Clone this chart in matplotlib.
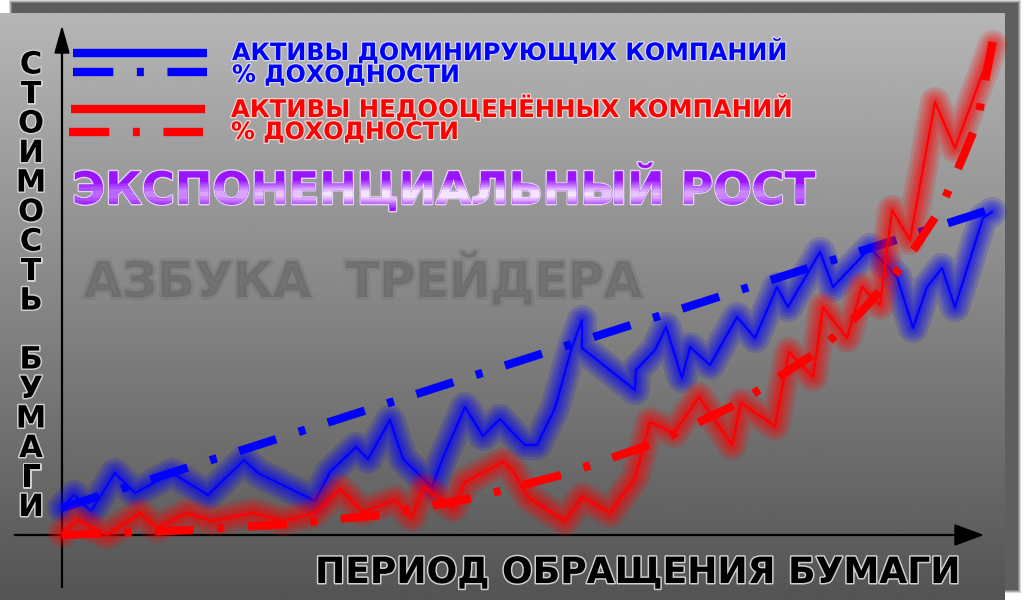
import matplotlib
matplotlib.use('Agg')
import matplotlib.pyplot as plt
import numpy as np
from matplotlib import patheffects as pe
from matplotlib.patches import Rectangle, Ellipse, Polygon

plt.rcParams['lines.scale_dashes'] = False
plt.rcParams['font.family'] = ['DejaVu Sans']

# Data (period on x, paper value on y)
blue_x = [0, 1.2, 2.9, 5.3, 7.3, 11.0, 14.6, 18.2, 19.6, 25.3, 26.8, 29.4, 30.6, 32.8, 34.1,
          37.0, 38.0, 40.3, 42.1, 43.8, 45.0, 46.3, 47.5, 49.3, 51.0, 52.0, 52.0, 57.3, 57.4,
          59.3, 60.4, 62.0, 62.8, 64.8, 67.5, 69.3, 71.5, 72.6, 75.8, 77.1, 80.8, 83.5, 85.1,
          86.5, 88.0, 89.3, 92.1, 93.0]
blue_y = [2.7, 4.0, 2.4, 6.2, 4.2, 6.2, 4.0, 7.5, 6.2, 3.4, 6.3, 8.8, 7.6, 11.5, 7.6,
          4.8, 7.5, 12.8, 9.9, 11.6, 10.3, 9.0, 9.0, 12.7, 18.8, 21.5, 18.7, 14.5, 16.5,
          18.5, 20.8, 15.7, 18.8, 17.0, 21.8, 19.7, 24.8, 22.8, 28.3, 24.8, 28.7, 25.8, 20.7,
          24.8, 26.7, 22.8, 31.7, 32.3]
red_x = [0, 1.5, 4.5, 7.8, 9.5, 12.5, 15.0, 19.1, 22.1, 25.3, 27.8, 30.1, 33.3, 35.0,
         36.2, 38.0, 39.1, 40.3, 44.1, 45.0, 46.7, 50.3, 52.0, 54.8, 57.3, 58.8, 61.2, 63.7,
         67.0, 67.9, 71.3, 72.7, 75.1, 76.1, 78.5, 80.0, 81.8, 83.0, 84.8, 87.3, 89.3, 93.1]
red_y = [0.2, 1.5, 0.0, 2.2, 0.7, 2.2, 1.4, 2.2, 1.4, 2.2, 4.6, 2.3, 3.5, 1.8,
         4.8, 3.5, 2.7, 5.3, 7.3, 6.5, 3.7, 1.4, 3.8, 2.2, 5.7, 11.3, 10.2, 13.8,
         9.0, 13.2, 10.9, 18.3, 15.8, 22.8, 19.7, 24.8, 23.0, 32.5, 29.5, 43.3, 38.7, 49.0]
blue_trend_x = [0, 93.3]
blue_trend_y = [2.7, 32.7]
red_trend_x = [0, 13.1, 22.5, 31.8, 41.1, 50.3, 59.3, 67.7, 75.5, 79.8, 84.3, 87.8, 90.1, 91.5, 93.1]
red_trend_y = [0, 0.5, 1.1, 2.0, 3.7, 6.1, 9.2, 13.2, 18.3, 22.2, 27.2, 32.5, 37.8, 41.2, 49.5]

blue_label = "АКТИВЫ ДОМИНИРУЮЩИХ КОМПАНИЙ"
red_label = "АКТИВЫ НЕДООЦЕНЁННЫХ КОМПАНИЙ"
yield_label = "% ДОХОДНОСТИ"
title = "ЭКСПОНЕНЦИАЛЬНЫЙ РОСТ"
watermark = "АЗБУКА  ТРЕЙДЕРА"
xlabel = "ПЕРИОД ОБРАЩЕНИЯ БУМАГИ"
ylabel = "СТОИМОСТЬ БУМАГИ"

dashdot = (0, (28, 17, 5, 17))

fig = plt.figure(figsize=(10.24, 6), dpi=100)
fig.patch.set_facecolor('white')

# background layer in pixel coordinates
bg = fig.add_axes([0, 0, 1, 1])
bg.axis('off')

# shadow frame
for pad, a in [(3, 0.25), (2, 0.35), (1, 0.5)]:
    bg.add_patch(Rectangle((12 - pad, 3 - pad), 1006 + 2 * pad, 587 + 2 * pad,
                           color='#5c5c5c', alpha=a, lw=0, zorder=-2))
bg.add_patch(Rectangle((12, 3), 1006, 587, color='#5e5e5e', lw=0, zorder=-2))

# gray gradient panel
grad = np.linspace(182, 84, 300)[:, None] * np.ones((1, 2))
bg.imshow(grad, cmap='gray', vmin=0, vmax=255, extent=(0, 1005, 600, 13),
          aspect='auto', interpolation='bilinear', zorder=-1)
bg.set_xlim(0, 1024)
bg.set_ylim(600, 0)

# axes arrows
bg.plot([62, 62], [587, 50], color='black', lw=1.6)
bg.add_patch(Polygon([(55, 53), (69, 53), (62, 28)], color='black'))
bg.plot([15, 957], [535, 535], color='black', lw=1.6)
bg.add_patch(Polygon([(955, 525), (955, 545), (982, 535)], color='black'))

# watermark
bg.text(84, 297, watermark, fontsize=35.5, fontweight='bold', color='#5e5e5e', alpha=0.35,
        va='baseline', ha='left',
        path_effects=[pe.withStroke(linewidth=4, foreground='#6a6a6a', alpha=0.25)])

# legend samples
bg.plot([73, 207], [53, 53], color='#0000ff', lw=6, solid_capstyle='butt')
bg.plot([73, 207], [71.5, 71.5], color='#0000ff', lw=6, linestyle=(0, (29, 17, 5, 17)),
        dash_capstyle='butt')
bg.plot([71, 205], [109, 109], color='#ff0000', lw=6, solid_capstyle='butt')
bg.plot([69, 203], [132, 132], color='#ff0000', lw=6, linestyle=(0, (29, 17, 5, 17)),
        dash_capstyle='butt')

leg_fx = [pe.withStroke(linewidth=1.8, foreground='#d8d8f0')]
bg.text(232, 60, blue_label, fontsize=17.2, fontweight='bold', color='#0000ff',
        va='baseline', path_effects=leg_fx)
bg.text(232, 82, yield_label, fontsize=17.2, fontweight='bold', color='#0000ff',
        va='baseline', path_effects=leg_fx)
red_fx = [pe.withStroke(linewidth=1.8, foreground='#f0d8d8')]
bg.text(231, 117, red_label, fontsize=17.5, fontweight='bold', color='#ff0000',
        va='baseline', path_effects=red_fx)
bg.text(231, 139, yield_label, fontsize=17.2, fontweight='bold', color='#ff0000',
        va='baseline', path_effects=red_fx)

# glossy title
tkw = dict(fontsize=32.4, fontweight='bold', va='baseline', ha='left')
bg.text(72, 204, title, color='#9a14ff',
        path_effects=[pe.withStroke(linewidth=2, foreground='#e4d4f4')], **tkw)
shades = ['#a534ff', '#b04cff', '#bd66ff', '#cb84ff', '#daa4ff', '#e8c4ff', '#f4e4ff']
for k, col in enumerate(shades):
    f = 1 - k / (len(shades) + 1.5)
    clip = Ellipse((455, 194), 1000 * f, 28 * f, transform=bg.transData)
    t = bg.text(72, 204, title, color=col, path_effects=[pe.Normal()], clip_on=True, **tkw)
    t.set_clip_path(clip)

# axis labels
lab_fx = [pe.withStroke(linewidth=2.2, foreground='#cfcfcf')]
bg.text(315, 583, xlabel, fontsize=26, fontweight='bold', color='black',
        va='baseline', ha='left', path_effects=lab_fx)
for i, ch in enumerate(ylabel):
    bg.text(31, 65 + i * 29.5, ch, fontsize=22, fontweight='bold', color='black',
            va='center', ha='center', path_effects=lab_fx)

# data axes
ax = fig.add_axes([62 / 1024, 65 / 600, 1000 / 1024, 500 / 600])
ax.set_xlim(0, 100)
ax.set_ylim(0, 50)
ax.axis('off')
ax.patch.set_alpha(0)


def glow(x, y, color):
    for w in [30, 24, 19, 14, 10, 6]:
        ax.plot(x, y, color=color, lw=w * 0.72, alpha=0.16, solid_joinstyle='round',
                solid_capstyle='round', clip_on=False)


glow(blue_x, blue_y, '#0000ff')
ax.plot(blue_x, blue_y, color='#0000ff', lw=1.5, clip_on=False)
ax.plot(blue_trend_x, blue_trend_y, color='#0000ff', lw=6, linestyle=dashdot,
        dash_capstyle='butt', clip_on=False)
glow(red_x, red_y, '#ff0000')
ax.plot(red_x, red_y, color='#ff0000', lw=1.5, clip_on=False)
ax.plot(red_trend_x, red_trend_y, color='#ff0000', lw=6, linestyle=dashdot,
        dash_capstyle='butt', clip_on=False)

fig.savefig('out.png', dpi=100)
